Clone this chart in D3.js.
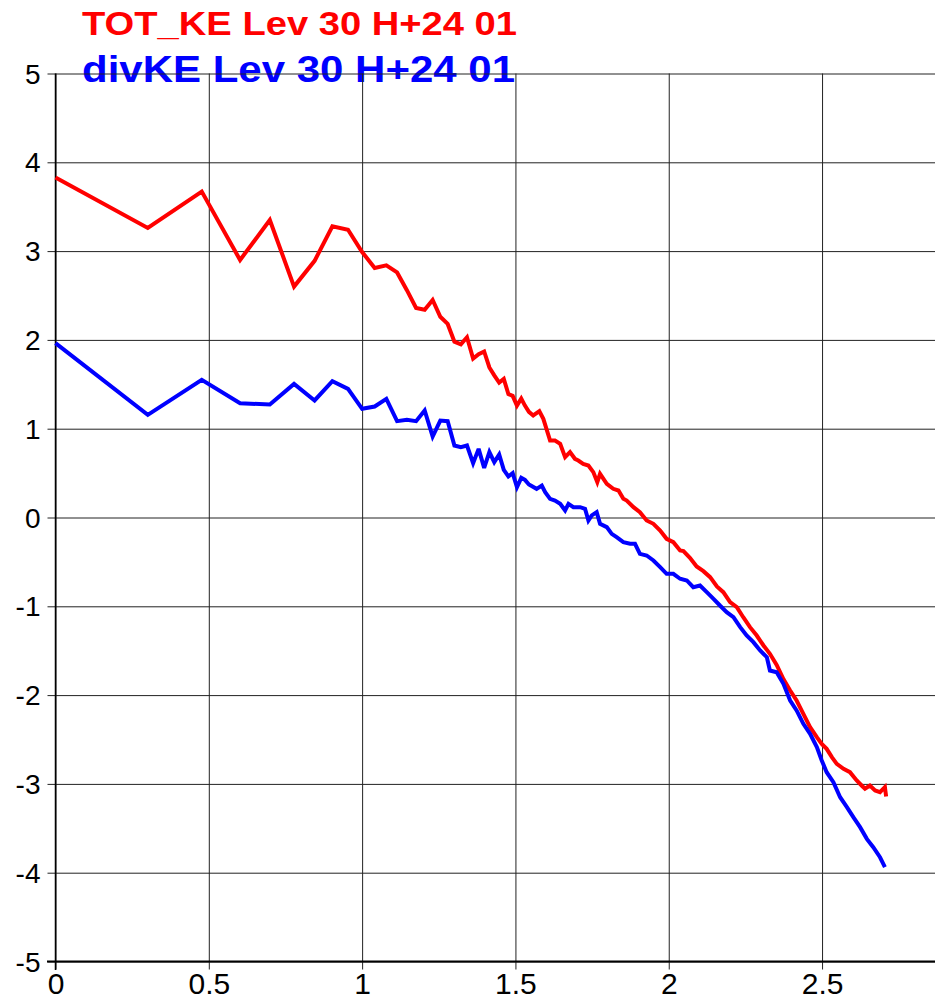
<!DOCTYPE html>
<html>
<head>
<meta charset="utf-8">
<script src="https://cdn.jsdelivr.net/npm/d3@7"></script>
<style>
html, body { margin: 0; padding: 0; background: #fff; }
svg { display: block; }
text { font-family: "Liberation Sans", Arial, sans-serif; }
</style>
</head>
<body>
<svg id="chart" width="935" height="998"></svg>
<script>
// ---- data (x = log10 wavenumber, y = log10 spectrum) ----
const titles = ["TOT_KE Lev 30 H+24 01", "divKE Lev 30 H+24 01"];
const colors = ["#ff0000", "#0000ff"];

const xTicks = [0, 0.5, 1, 1.5, 2, 2.5];
const xTickLabels = ["0", "0.5", "1", "1.5", "2", "2.5"];
const yTicks = [5, 4, 3, 2, 1, 0, -1, -2, -3, -4, -5];
const yTickLabels = ["5", "4", "3", "2", "1", "0", "-1", "-2", "-3", "-4", "-5"];

const totX = [0,0.301,0.477,0.602,0.699,0.778,0.845,0.903,0.954,1,1.041,1.079,1.114,1.146,1.176,1.204,1.230,1.255,1.279,1.301,1.322,1.342,1.362,1.380,1.398,1.415,1.431,1.447,1.462,1.477,1.491,1.505,1.519,1.531,1.544,
  1.558,1.578,1.591,1.613,1.629,1.646,1.662,1.678,1.694,1.705,1.721,1.738,1.754,1.767,1.776,1.798,1.819,1.836,1.852,1.863,1.885,1.906,1.928,1.950,1.972,1.993,2.015,2.037,
  2.048,2.069,2.091,2.113,2.135,2.157,2.178,2.200,2.222,2.243,2.265,2.287,2.309,
  2.330,2.352,2.374,2.396,2.417,2.439,2.461,2.483,2.499,2.515,2.532,2.548,2.570,2.591,2.613,2.629,2.640,2.656,2.673,2.689,2.705,2.709];
const totKE = [3.83,3.26,3.67,2.90,3.35,2.60,2.89,3.28,3.24,2.99,2.81,2.84,2.76,2.56,2.36,2.34,2.45,2.26,2.18,1.98,1.95,2.03,1.79,1.84,1.87,1.69,1.60,1.52,1.56,1.39,1.37,1.26,1.34,1.26,1.19,
  1.149,1.197,1.111,0.867,0.867,0.830,0.680,0.736,0.661,0.642,0.604,0.586,0.511,0.398,0.492,0.380,0.323,0.304,0.211,0.191,0.116,0.060,-0.034,-0.071,-0.146,-0.240,-0.278,-0.372,
  -0.379,-0.454,-0.552,-0.604,-0.672,-0.777,-0.841,-0.954,-1.010,-1.123,-1.235,-1.329,-1.441,
  -1.535,-1.66,-1.82,-1.948,-2.061,-2.211,-2.361,-2.474,-2.549,-2.605,-2.699,-2.774,-2.830,-2.868,-2.962,-3.018,-3.055,-3.018,-3.074,-3.093,-3.037,-3.142];

const divX = [0,0.301,0.477,0.602,0.699,0.778,0.845,0.903,0.954,1,1.041,1.079,1.114,1.146,1.176,1.204,1.230,1.255,1.279,1.301,1.322,1.342,1.362,1.380,1.398,1.415,1.431,1.447,1.462,1.477,1.491,1.505,1.519,1.531,1.544,
  1.569,1.586,1.597,1.613,1.629,1.646,1.662,1.673,1.689,1.711,1.727,1.738,1.749,1.765,1.776,1.798,1.814,1.830,1.852,1.874,1.890,1.906,1.928,1.950,1.972,1.993,2.015,2.037,
  2.059,2.080,2.102,2.124,2.146,2.167,2.189,2.211,2.233,2.254,2.276,2.298,2.320,
  2.330,2.352,2.374,2.396,2.417,2.439,2.461,2.483,2.499,2.515,2.537,2.559,2.581,2.602,2.624,2.646,2.667,2.689,2.705];
const divKE = [1.963,1.156,1.551,1.287,1.273,1.505,1.318,1.535,1.449,1.224,1.25,1.336,1.085,1.10,1.085,1.205,0.912,1.092,1.085,0.811,0.792,0.811,0.612,0.773,0.559,0.736,0.623,0.709,0.537,0.462,0.499,0.341,0.447,0.424,0.372,
  0.323,0.360,0.285,0.210,0.191,0.154,0.079,0.154,0.116,0.116,0.098,-0.034,0.023,0.060,-0.071,-0.109,-0.184,-0.222,-0.278,-0.296,-0.296,-0.409,-0.428,-0.484,-0.559,-0.634,-0.634,-0.690,-0.709,
  -0.785,-0.766,-0.841,-0.916,-0.991,-1.066,-1.123,-1.235,-1.329,-1.404,-1.498,-1.573,-1.723,
  -1.742,-1.873,-2.061,-2.173,-2.323,-2.436,-2.586,-2.736,-2.868,-2.981,-3.150,-3.262,-3.375,-3.487,-3.619,-3.713,-3.826,-3.938,-4.051];

// ---- drawing ----
const svg = d3.select("#chart");
const x = d3.scaleLinear().domain([0, 2.87]).range([55.5, 935.5]);
const y = d3.scaleLinear().domain([-5, 5]).range([961.5, 73.5]);

// titles (drawn beneath grid)
svg.append("text").attr("x", 82).attr("y", 35)
  .attr("font-size", 33).attr("font-weight", "bold").attr("fill", colors[0])
  .attr("textLength", 435).attr("lengthAdjust", "spacingAndGlyphs")
  .text(titles[0]);
svg.append("text").attr("x", 82).attr("y", 82)
  .attr("font-size", 36).attr("font-weight", "bold").attr("fill", colors[1])
  .attr("textLength", 433).attr("lengthAdjust", "spacingAndGlyphs")
  .text(titles[1]);

// horizontal grid + y ticks
const yAxis = d3.axisLeft(y).tickValues(yTicks)
  .tickFormat((d, i) => yTickLabels[i])
  .tickSize(-(935 - 55.5)).tickPadding(16);
const gy = svg.append("g").attr("transform", "translate(55.5,0)").call(yAxis);
gy.select(".domain").remove();
gy.selectAll(".tick line").attr("x1", -8).attr("stroke", "#222").attr("stroke-width", 1);
gy.selectAll(".tick text").attr("font-size", 28).attr("fill", "#000")
  .attr("font-family", "Liberation Sans, Arial, sans-serif").attr("x", -15).attr("dy", "0.34em");

// vertical grid + x ticks
const xAxis = d3.axisBottom(x).tickValues(xTicks)
  .tickFormat((d, i) => xTickLabels[i])
  .tickSize(-(961.5 - 73.5)).tickPadding(0);
const gx = svg.append("g").attr("transform", "translate(0,961.5)").call(xAxis);
gx.select(".domain").remove();
gx.selectAll(".tick line").attr("y1", 8).attr("stroke", "#222").attr("stroke-width", 1);
gx.selectAll(".tick text").attr("font-size", 30).attr("fill", "#000")
  .attr("font-family", "Liberation Sans, Arial, sans-serif").attr("y", 32).attr("dy", 0);

// axis lines
svg.append("line").attr("x1", 47).attr("x2", 935).attr("y1", y(-5)).attr("y2", y(-5))
  .attr("stroke", "#000").attr("stroke-width", 2);
svg.append("line").attr("x1", x(0)).attr("x2", x(0)).attr("y1", y(5)).attr("y2", 970)
  .attr("stroke", "#000").attr("stroke-width", 1.5);

// series
const line = d3.line().x(d => x(d[0])).y(d => y(d[1]));
const series = [
  { xs: totX, ys: totKE, color: colors[0] },
  { xs: divX, ys: divKE, color: colors[1] }
];
series.forEach(s => {
  const pts = s.xs.map((v, i) => [v, s.ys[i]]);
  svg.append("path").datum(pts).attr("d", line)
    .attr("fill", "none").attr("stroke", s.color)
    .attr("stroke-width", 4).attr("stroke-linejoin", "miter").attr("stroke-miterlimit", 3);
});
</script>
</body>
</html>
